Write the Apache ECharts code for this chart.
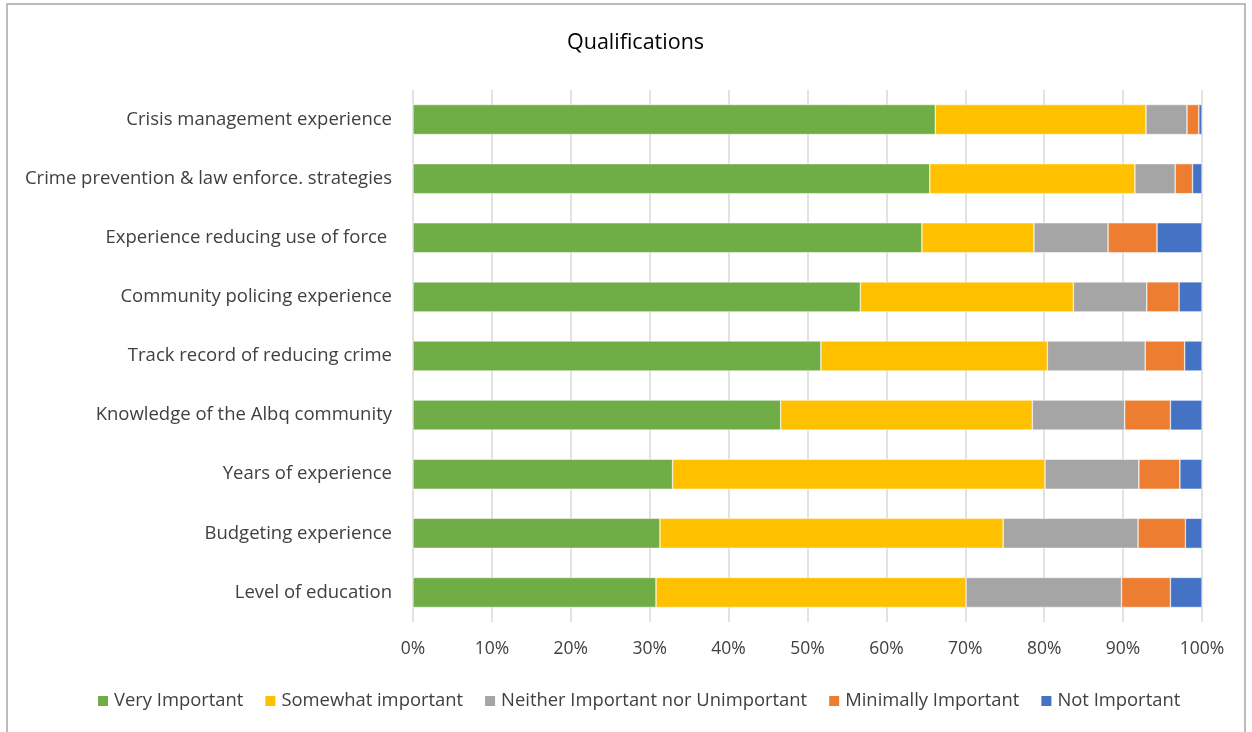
<!DOCTYPE html>
<html>
<head>
<meta charset="utf-8">
<script src="https://cdn.jsdelivr.net/npm/echarts@6/dist/echarts.min.js"></script>
<style>
  html, body { margin: 0; padding: 0; background: #fff; }
  #chart { width: 1252px; height: 732px; }
</style>
</head>
<body>
<div id="chart"></div>
<script>
// categories listed top to bottom (axis is inverted)
const categories = [
  "Crisis management experience",
  "Crime prevention & law enforce. strategies",
  "Experience reducing use of force ",
  "Community policing experience",
  "Track record of reducing crime",
  "Knowledge of the Albq community",
  "Years of experience",
  "Budgeting experience",
  "Level of education"
];

const veryImportant     = [66.2, 65.5, 64.5, 56.7, 51.7, 46.6, 32.9, 31.3, 30.8];
const somewhatImportant = [26.7, 26.0, 14.2, 27.0, 28.7, 31.9, 47.2, 43.5, 39.3];
const neither           = [5.2, 5.1, 9.4, 9.3, 12.4, 11.7, 11.9, 17.1, 19.7];
const minimally         = [1.5, 2.2, 6.2, 4.1, 5.0, 5.8, 5.2, 6.0, 6.2];
const notImportant      = [0.4, 1.2, 5.7, 2.9, 2.2, 4.0, 2.8, 2.1, 4.0];

const seriesNames = ["Very Important", "Somewhat important", "Neither Important nor Unimportant", "Minimally Important", "Not Important"];
const seriesColors = ["#70AD47", "#FFC000", "#A5A5A5", "#ED7D31", "#4472C4"];
const xTicks = [0, 10, 20, 30, 40, 50, 60, 70, 80, 90, 100];

const font = "'Open Sans', 'Noto Sans', sans-serif";
const chart = echarts.init(document.getElementById("chart"), null, { renderer: "canvas" });

const allData = [veryImportant, somewhatImportant, neither, minimally, notImportant];

chart.setOption({
  animation: false,
  title: {
    text: "Qualifications",
    left: 562,
    top: 27,
    textStyle: { fontFamily: font, fontSize: 21.5, fontWeight: "normal", color: "#000" }
  },
  graphic: [{
    type: "rect",
    shape: { x: 7, y: 4, width: 1238, height: 740 },
    style: { fill: "none", stroke: "#a6a6a6", lineWidth: 1.5 },
    silent: true
  }],
  legend: {
    top: 687,
    left: 91,
    icon: "rect",
    itemWidth: 12,
    itemHeight: 12,
    itemGap: 20,
    textStyle: { fontFamily: font, fontSize: 18.4, color: "#404040" },
    data: seriesNames
  },
  grid: { left: 413, right: 50, top: 90, bottom: 110, containLabel: false },
  xAxis: {
    type: "value",
    min: 0,
    max: 100,
    interval: 10,
    axisLine: { show: false },
    axisTick: { show: false },
    splitLine: { lineStyle: { color: "#d9d9d9", width: 1.5 } },
    axisLabel: {
      fontFamily: font, fontSize: 17.5, color: "#404040", margin: 18,
      formatter: v => xTicks.includes(v) ? v + "%" : ""
    }
  },
  yAxis: {
    type: "category",
    inverse: true,
    data: categories,
    axisLine: { show: false },
    axisTick: { show: false },
    axisLabel: { fontFamily: font, fontSize: 18.5, color: "#404040", margin: 21 }
  },
  series: seriesNames.map((name, i) => ({
    name: name,
    type: "bar",
    stack: "total",
    barWidth: 30,
    itemStyle: { color: seriesColors[i], borderColor: "#fff", borderWidth: 0.5 },
    data: allData[i]
  }))
});
</script>
</body>
</html>
